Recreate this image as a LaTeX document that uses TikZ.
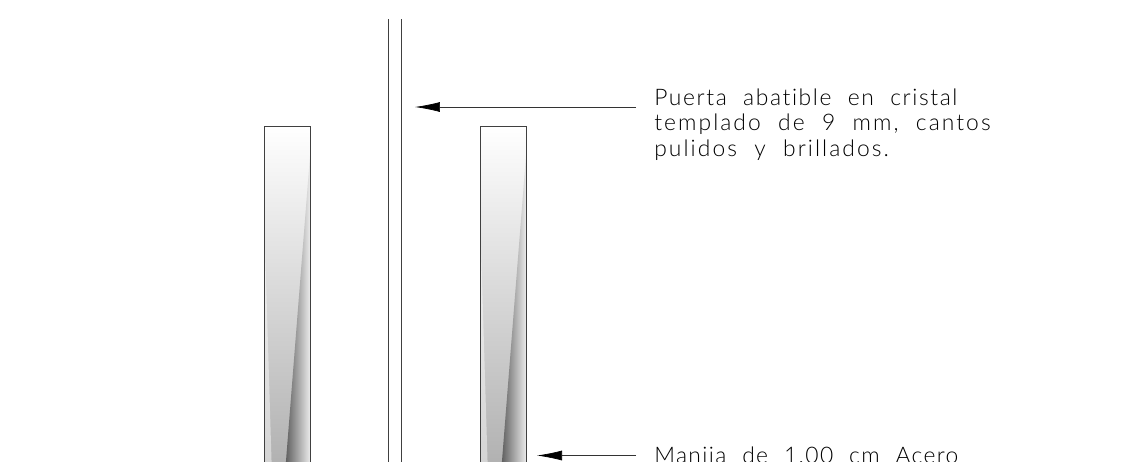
\documentclass[tikz,border=0pt]{standalone}
\usepackage{fontspec}
\setmainfont[LetterSpace=9,WordSpace=2.1,Ligatures=NoCommon]{Lato Light}
\usetikzlibrary{arrows.meta,positioning}
\tikzset{
    leader/.style={draw=black!80,line width=0.4pt,-{Latex[length=0.5cm,width=0.2cm,black]}},
    note/.style={anchor=base west,inner sep=0pt,align=left,font=\fontsize{13pt}{14.45pt}\selectfont,text=black},
    edge line/.style={draw=black!75,line width=0.5pt}
}
\newcommand{\handlebar}[1]{
    \begin{scope}[shift={(#1,0)}]
        \begin{scope}
            \clip (0,126) rectangle (46,480);
            \shade[top color=white,bottom color=black!32] (0,126) rectangle (46,480);
            \fill[white,opacity=0.45] (0,230) -- (7.6,480) -- (0,480) -- cycle;
            \shade[left color=black!65,right color=black!7] (46,150) -- (20,480) -- (46,480) -- cycle;
        \end{scope}
        \draw[edge line] (0,480) -- (0,126) -- (46,126) -- (46,480);
    \end{scope}
}
\begin{document}
\begin{tikzpicture}[x=0.02cm,y=-0.02cm]
    \useasboundingbox (0,0) rectangle (1143,461);
    \clip (0,0) rectangle (1143,461);
    \handlebar{264.5}
    \handlebar{480.5}
    \draw[edge line] (388.5,19) -- (388.5,480);
    \draw[edge line] (401.5,19) -- (401.5,480);
    \node[note] (puerta) at (654,156) {{\addfontfeature{LetterSpace=7}Puerta abatible en cristal}\\templado de 9 mm, cantos\\pulidos y brillados.};
    \node[note] (manija) at (654,463) {\addfontfeature{LetterSpace=6}Manija de 1.00 cm Acero};
    \coordinate (puertaStart) at (636,107);
    \coordinate (puertaTip) at (415,107);
    \coordinate (manijaStart) at (636,455.5);
    \coordinate (manijaTip) at (537,455.5);
    \draw[leader] (puertaStart) -- (puertaTip);
    \draw[leader] (manijaStart) -- (manijaTip);
\end{tikzpicture}
\end{document}
